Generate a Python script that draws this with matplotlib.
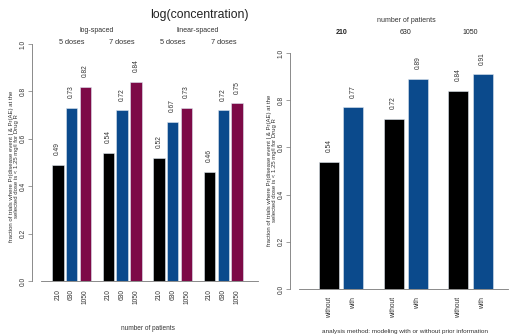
import matplotlib
matplotlib.use("Agg")
import matplotlib.pyplot as plt
import matplotlib.transforms as mtransforms
import numpy as np

plt.rcParams["font.family"] = ["Liberation Sans", "DejaVu Sans"]

# left panel data: design groups x number of patients
design_types = ["log-spaced", "linear-spaced"]
dose_labels = ["5 doses", "7 doses", "5 doses", "7 doses"]
patients = ["210", "630", "1050"]
left_values = [
    [0.49, 0.73, 0.82],
    [0.54, 0.72, 0.84],
    [0.52, 0.67, 0.73],
    [0.46, 0.72, 0.75],
]

# right panel data: number of patients x analysis method
methods = ["without", "with"]
right_values = [
    [0.54, 0.77],
    [0.72, 0.89],
    [0.84, 0.91],
]

BLACK = "#000000"
BLUE = "#0b4a8c"
MAROON = "#7d0a47"
AXCOL = "#777777"
TXT = "#333333"

YLABEL = ("fraction of trials where Pr(disease event | & Pr(AE) at the\n"
          "selected dose is < 1.25 mg/l for Drug R")

W, H = 510, 336
fig = plt.figure(figsize=(W / 100, H / 100), dpi=100)


def px_axes(x0, x1, y_top, y_bot):
    return fig.add_axes([x0 / W, 1 - y_bot / H, (x1 - x0) / W, (y_bot - y_top) / H])


def style_axes(ax):
    for s in ["top", "right"]:
        ax.spines[s].set_visible(False)
    ax.spines["left"].set_position(("outward", 6.5))
    ax.spines["left"].set_bounds(0, 1)
    ax.spines["left"].set_color(AXCOL)
    ax.spines["bottom"].set_color(AXCOL)
    ax.spines["left"].set_linewidth(0.6)
    ax.spines["bottom"].set_linewidth(0.6)
    ax.set_ylim(0, 1)
    ax.set_yticks(np.arange(0, 1.01, 0.2))
    ax.set_yticklabels([f"{v:.1f}" for v in np.arange(0, 1.01, 0.2)],
                       rotation=90, va="center", fontsize=4.8, color=TXT)
    ax.tick_params(axis="y", length=3, width=0.5, color=AXCOL, pad=0.8)
    ax.tick_params(axis="x", length=0, pad=6)


def bar_positions(n_groups, n_bars):
    # R barplot beside=TRUE with space=c(0.2, 1)
    pos = []
    for g in range(n_groups):
        pos.append([1 + g * (n_bars + 0.2 * (n_bars - 1) + 1) + i * 1.2 + 0.5
                    for i in range(n_bars)])
    return np.array(pos)


def value_labels(ax, xs, vals):
    for x, v in zip(xs, vals):
        ax.annotate(f"{v:.2f}", (x, v), xytext=(0, 7), textcoords="offset points",
                    rotation=90, ha="center", va="bottom", fontsize=4.8,
                    color=TXT, annotation_clip=False)


# ---------------- left panel ----------------
axL = px_axes(41, 258, 44, 281)
lpos = bar_positions(len(left_values), len(patients))
colors_left = [BLACK, BLUE, MAROON]
for g, vals in enumerate(left_values):
    axL.bar(lpos[g], vals, width=1, color=colors_left,
            edgecolor="#dde6f0", linewidth=0.4)
    value_labels(axL, lpos[g], vals)
axL.set_xlim(1 + (41 - 52) / 11.5, 1 + (258 - 52) / 11.5)
style_axes(axL)
axL.set_xticks(lpos.ravel())
axL.set_xticklabels(patients * len(left_values), rotation=90, fontsize=4.8,
                    color=TXT, va="top")

trL = mtransforms.blended_transform_factory(axL.transData, fig.transFigure)
for g, lab in enumerate(dose_labels):
    axL.text(lpos[g].mean(), 1 - 43 / H, lab, transform=trL, ha="center",
             va="center", fontsize=5.3, color=TXT)
for k, lab in enumerate(design_types):
    axL.text(lpos[2 * k:2 * k + 2].mean(), 1 - 30 / H, lab, transform=trL,
             ha="center", va="center", fontsize=5.0, color=TXT)
fig.text(199 / W, 1 - 15 / H, "log(concentration)", ha="center", va="center",
         fontsize=8.8, color="#222222")
fig.text(148 / W, 1 - 328 / H, "number of patients", ha="center", va="center",
         fontsize=4.7, color=TXT)
fig.text(14 / W, 1 - 166 / H, YLABEL, rotation=90, ha="center", va="center",
         fontsize=4.3, color=TXT, linespacing=1.1)

# ---------------- right panel ----------------
axR = px_axes(299, 508, 53, 289)
rpos = bar_positions(len(right_values), len(methods))
colors_right = [BLACK, BLUE]
for g, vals in enumerate(right_values):
    axR.bar(rpos[g], vals, width=1, color=colors_right,
            edgecolor="#dde6f0", linewidth=0.4)
    value_labels(axR, rpos[g], vals)
axR.set_xlim(1 + (299 - 319) / 20.2, 1 + (508 - 319) / 20.2)
style_axes(axR)
axR.set_xticks(rpos.ravel())
axR.set_xticklabels(methods * len(right_values), rotation=90, fontsize=4.8,
                    color=TXT, va="top")

trR = mtransforms.blended_transform_factory(axR.transData, fig.transFigure)
for g, lab in enumerate(patients):
    axR.text(rpos[g].mean(), 1 - 33 / H, lab, transform=trR, ha="center",
             va="center", fontsize=5.0, color="#222222",
             fontweight="bold" if g == 0 else "normal")
fig.text(406 / W, 1 - 20 / H, "number of patients", ha="center", va="center",
         fontsize=5.0, color=TXT)
fig.text(405 / W, 1 - 332 / H,
         "analysis method: modeling with or without prior information",
         ha="center", va="center", fontsize=4.6, color=TXT)
fig.text(272 / W, 1 - 170 / H, YLABEL, rotation=90, ha="center", va="center",
         fontsize=4.3, color=TXT, linespacing=1.1)

fig.savefig("out.png", dpi=100)
